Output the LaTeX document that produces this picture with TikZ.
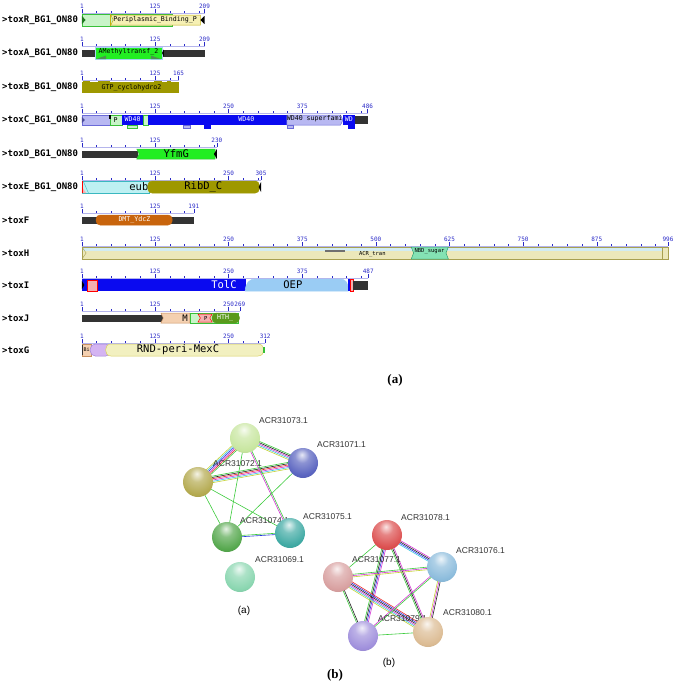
\documentclass[tikz,border=0pt]{standalone}
\usepackage{fontspec}
\setmainfont{Liberation Serif}
\newfontfamily\trackfont{DejaVu Sans Mono}
\newfontfamily\labfont{Liberation Sans}
\usetikzlibrary{calc,backgrounds}

\definecolor{rulerblue}{HTML}{2A2AC8}
\definecolor{backbone}{HTML}{333333}
\definecolor{ltgreen}{HTML}{C8F4C8}
\definecolor{midgreen}{HTML}{38C038}
\definecolor{brgreen}{HTML}{22EE22}
\definecolor{dkgreen}{HTML}{1E7A1E}
\definecolor{paleyel}{HTML}{F6F0B4}
\definecolor{olivebd}{HTML}{C0AE10}
\definecolor{olive}{HTML}{9E9800}
\definecolor{ltblue}{HTML}{A8D4F4}
\definecolor{wdblue}{HTML}{0A0AF0}
\definecolor{lavender}{HTML}{B8B8F2}
\definecolor{lavbd}{HTML}{6A6AD8}
\definecolor{ltcyan}{HTML}{BEF0F2}
\definecolor{tealbd}{HTML}{3AB8C0}
\definecolor{dmtorange}{HTML}{C8640C}
\definecolor{khaki}{HTML}{ECE8BA}
\definecolor{khakibd}{HTML}{A8A050}
\definecolor{rulerband}{HTML}{D2ECF2}
\definecolor{nbdgreen}{HTML}{84E2B4}
\definecolor{nbdbd}{HTML}{2EA070}
\definecolor{pinkfill}{HTML}{F4B0B0}
\definecolor{oepblue}{HTML}{9ACCF4}
\definecolor{peach}{HTML}{F4D0B0}
\definecolor{peachbd}{HTML}{C89060}
\definecolor{hthgreen}{HTML}{5A9A1C}
\definecolor{lilac}{HTML}{D4B4F2}
\definecolor{lilacbd}{HTML}{A080D8}
\definecolor{paleyel2}{HTML}{F2F0C0}
\definecolor{yelbd}{HTML}{D8D060}
% STRING evidence colours
\definecolor{evgreen}{HTML}{3CCB3C}
\definecolor{evred}{HTML}{E82A2A}
\definecolor{evblue}{HTML}{2A36E0}
\definecolor{evblack}{HTML}{222222}
\definecolor{evmagenta}{HTML}{D234D2}
\definecolor{evcyan}{HTML}{3CC4E4}
\definecolor{evyellow}{HTML}{C4D236}
% protein balls
\definecolor{p69}{HTML}{8AD6B0}
\definecolor{p71}{HTML}{5A64C0}
\definecolor{p72}{HTML}{B4AA50}
\definecolor{p73}{HTML}{C8E6A0}
\definecolor{p74}{HTML}{56A84E}
\definecolor{p75}{HTML}{40AAA4}
\definecolor{p76}{HTML}{8CBCDC}
\definecolor{p77}{HTML}{D8A0A0}
\definecolor{p78}{HTML}{DC5050}
\definecolor{p79}{HTML}{A090DC}
\definecolor{p80}{HTML}{DCBC94}

% lighter sphere than the stock ball shading
\makeatletter
\pgfdeclareradialshading[tikz@ball]{stringball}{\pgfqpoint{-2bp}{14bp}}{%
  color(0bp)=(tikz@ball!15!white); color(12bp)=(tikz@ball!70!white);
  color(30bp)=(tikz@ball); color(52bp)=(tikz@ball!78!black);
  color(64bp)=(tikz@ball!60!black); color(100bp)=(tikz@ball!60!black)}
\makeatother

\tikzset{
  rowlab/.style={anchor=west,inner sep=0pt,font=\trackfont\bfseries\fontsize{9}{10}\selectfont},
  ruler/.style={rulerblue,line width=0.4pt},
  rulenum/.style={inner sep=0pt,text=rulerblue,font=\trackfont\fontsize{6}{6}\selectfont},
  dom/.style 2 args={fill=#1,draw=#2,line width=0.5pt},
  smalltxt/.style={inner sep=0pt,font=\trackfont\fontsize{6.6}{7}\selectfont},
  bigtxt/.style={inner sep=0pt,font=\trackfont\fontsize{10.5}{11}\selectfont},
  protein/.style={circle,minimum size=30pt,inner sep=0pt},
  acc/.style={anchor=west,inner sep=0pt,text=black!80,font=\labfont\fontsize{8.5}{9}\selectfont},
  link/.style={line width=0.6pt},
  panel/.style={inner sep=0pt,font=\bfseries\fontsize{13}{14}\selectfont},
  subpanel/.style={inner sep=0pt,font=\labfont\fontsize{10}{11}\selectfont}
}

\begin{document}
\begin{tikzpicture}[x=1pt,y=-1pt]
 \useasboundingbox (0,0) rectangle (676,686);
 % row names and rulers
 \foreach \y/\len/\name [count=\r] in {20/209/toxR\_BG1\_ON80, 53/209/toxA\_BG1\_ON80,
   87/165/toxB\_BG1\_ON80, 120/486/toxC\_BG1\_ON80, 154/230/toxD\_BG1\_ON80,
   187/305/toxE\_BG1\_ON80, 220/191/toxF, 253/996/toxH, 285/487/toxI, 318/269/toxJ, 350/312/toxG} {
   \node[rowlab] (row\r) at (2,\y) {>\name};
   \begin{scope}[shift={(81.4,\y)},x=0.589pt]
     \draw[ruler,rulerblue!35] (1,-7) -- (\len,-7);
     \foreach \t in {25,50,...,975} {\ifnum\t<\len \draw[ruler] (\t,-7) -- (\t,-9.5);\fi}
     \foreach \t in {1,125,250,375,500,625,750,875,\len} {\ifnum\t>\len\else
       \draw[ruler] (\t,-7) -- (\t,-11);
       \node[rulenum] (tick\r-\t) at (\t,-14) {\t};\fi}
   \end{scope}}

 % toxR
 \begin{scope}[shift={(81.4,20)},x=0.589pt]
  \draw[dom={ltgreen}{midgreen}] (1,-6) rectangle (154,6);
  \draw[dom={paleyel}{olivebd}] (50,-5) -- (202,-5) -- (202,5) -- (50,5) -- (54,0) -- cycle;
  \draw[olivebd,line width=1.2pt] (50,-6) -- (50,6);
  \fill[dkgreen] (1,-4) -- (7,0) -- (1,4) -- cycle;
  \fill[black] (209,-4) -- (202,0) -- (209,4) -- cycle;
  \node[smalltxt] (pbpR) at (125,0) {Periplasmic\_Binding\_P};
 \end{scope}
 % toxA
 \begin{scope}[shift={(81.4,53)},x=0.589pt]
  \fill[backbone] (1,-3.5) rectangle (209,3.5);
  \draw[dom={brgreen}{ltblue}] (23,-6) -- (137,-6) -- (137,6) -- (23,6) -- cycle;
  \fill[dkgreen!80] (25,6) -- (42,2.5) -- (42,6) -- cycle;
  \fill[dkgreen!80] (135,6) -- (118,2.5) -- (118,6) -- cycle;
  \fill[black] (140,-3.5) -- (137,0) -- (140,3.5) -- cycle;
  \node[smalltxt] (mtA) at (80,-1) {AMethyltransf\_2};
 \end{scope}
 % toxB
 \begin{scope}[shift={(81.4,87)},x=0.589pt]
  \fill[olive] (1,-5) rectangle (165,6);
  \foreach \a/\b in {2/14,28/48,124/136,146/152} \fill[olive] (\a,-6.5) rectangle (\b,-5);
  \node[smalltxt] (gtpB) at (85,1) {GTP\_cyclohydro2};
 \end{scope}
 % toxC
 \begin{scope}[shift={(81.4,120)},x=0.589pt]
  \fill[backbone] (464,-4) rectangle (486,4);
  \draw[dom={lavender}{lavbd}] (1,-5) rectangle (49,5);
  \fill[lavbd!70!black] (1,-3) -- (6,0) -- (1,3) -- cycle;
  \draw[dom={ltgreen}{midgreen}] (49,-5) rectangle (69,5);
  \draw[dom={ltgreen}{midgreen}] (78,5) rectangle (95,8);
  \fill[wdblue] (69,-5) rectangle (105,5);
  \draw[dom={ltgreen}{midgreen}] (105,-5) rectangle (113,5);
  \fill[wdblue] (113,-5) rectangle (349,5);
  \draw[dom={lavender}{lavbd}] (173,5) rectangle (185,8);
  \fill[wdblue] (208,5) rectangle (220,8.5);
  \draw[dom={lavender}{lavbd}] (349,-5) -- (440,-5) -- (444,0) -- (440,5) -- (349,5) -- cycle;
  \draw[dom={lavender}{lavbd}] (349,5) rectangle (359,8);
  \fill[wdblue] (444,-5) rectangle (464,5);
  \fill[wdblue] (453,5) rectangle (464,8.5);
  \fill[black] (47,-5) rectangle (50,-1);
  \node[smalltxt] (pC) at (58,0) {P};
  \node[smalltxt,text=white] (wd1C) at (87,-1) {WD40};
  \node[smalltxt,text=white] (wd2C) at (280,-1) {WD40};
  \node[smalltxt] (wd3C) at (396,-1) {WD40 superfami};
  \node[smalltxt,text=white] (wd4C) at (454,-1) {WD};
 \end{scope}
 % toxD
 \begin{scope}[shift={(81.4,154)},x=0.589pt]
  \fill[backbone] (1,-3.5) rectangle (96,3.5);
  \draw[dom={brgreen}{midgreen}] (94,-5) -- (227,-5) -- (227,5) -- (94,5) -- (98,0) -- cycle;
  \fill[black] (230,-5) -- (225,0) -- (230,5) -- cycle;
  \node[bigtxt] (yfmD) at (161,0) {YfmG};
 \end{scope}
 % toxE
 \begin{scope}[shift={(81.4,187)},x=0.589pt]
  \draw[dom={ltcyan}{tealbd}] (1,-6) -- (116,-6) -- (116,6) -- (1,6) -- cycle;
  \draw[tealbd] (3,-6) -- (12,6);
  \fill[pinkfill] (1,0) -- (1,6) -- (8,6) -- cycle;
  \draw[red] (1,-6) -- (1,6);
  \node[bigtxt,anchor=east] (eubE) at (114,0) {eub};
  \draw[dom={olive}{olive},rounded corners=4pt] (113,-6) rectangle (302,6);
  \fill[black] (305,-5) -- (301,0) -- (305,5) -- cycle;
  \node[bigtxt] (ribE) at (207,0) {RibD\_C};
 \end{scope}
 % toxF
 \begin{scope}[shift={(81.4,220)},x=0.589pt]
  \fill[backbone] (1,-3.5) rectangle (191,3.5);
  \draw[dom={dmtorange}{dmtorange},rounded corners=4pt] (25,-5) rectangle (154,5);
  \node[smalltxt,text=white] (dmtF) at (90,0) {DMT\_YdcZ};
 \end{scope}
 % toxH
 \begin{scope}[shift={(81.4,253)},x=0.589pt]
  \draw[dom={khaki}{khakibd}] (1,-6) rectangle (996,6);
  \fill[rulerband] (2,-5.5) rectangle (995,-2);
  \draw[khakibd] (1,-6) -- (8,0) -- (1,6);
  \fill[backbone!70] (413,-3) rectangle (447,-1.5);
  \draw[dom={nbdgreen}{nbdbd}] (560,-6) -- (623,-6) -- (619,0) -- (623,6) -- (560,6) -- (564,0) -- cycle;
  \node[smalltxt,font=\trackfont\fontsize{5.5}{6}\selectfont] (nbdH) at (591,-2) {NBD\_sugar};
  \node[smalltxt,font=\trackfont\fontsize{5.5}{6}\selectfont] (acrH) at (494,1.5) {ACR\_tran};
  \draw[dom={khaki}{khakibd}] (986,-6) rectangle (996,6);
 \end{scope}
 % toxI
 \begin{scope}[shift={(81.4,285)},x=0.589pt]
  \fill[wdblue] (1,-6) rectangle (280,6);
  \fill[black] (1,-4) -- (5,0) -- (1,4) -- cycle;
  \draw[dom={pinkfill}{red}] (10,-5) rectangle (27,6);
  \draw[dom={oepblue}{oepblue}] (278,6) .. controls (279,-2) and (285,-6) .. (295,-6)
    -- (438,-6) .. controls (450,-6) and (453,-2) .. (453,6) -- cycle;
  \fill[wdblue] (453,-6) rectangle (456,6);
  \draw[dom={pinkfill}{red}] (456,-6) rectangle (461,6);
  \fill[backbone] (461,-4.5) rectangle (487,4.5);
  \node[bigtxt,text=white] (tolI) at (242,0) {TolC};
  \node[bigtxt] (oepI) at (359,0) {OEP};
 \end{scope}
 % toxJ
 \begin{scope}[shift={(81.4,318)},x=0.589pt]
  \fill[backbone] (1,-3.5) rectangle (140,3.5);
  \draw[dom={peach}{peachbd}] (135,-5) -- (184,-5) -- (184,5) -- (135,5) -- (139,0) -- cycle;
  \node[bigtxt,font=\trackfont\fontsize{9}{10}\selectfont] (mJ) at (176,0) {M};
  \draw[dom={ltgreen}{midgreen}] (184,-5) rectangle (266,5);
  \draw[dom={pinkfill}{red}] (198,-4) -- (222,-4) -- (218,0) -- (222,4) -- (198,4) -- (202,0) -- cycle;
  \node[smalltxt,font=\trackfont\fontsize{5.5}{6}\selectfont] (pJ) at (211,0) {P};
  \draw[dom={hthgreen}{hthgreen},rounded corners=4pt] (222,-5) rectangle (268,5);
  \node[smalltxt,text=white] (hthJ) at (244,0) {HTH\_};
 \end{scope}
 % toxG
 \begin{scope}[shift={(81.4,350)},x=0.589pt]
  \draw[dom={peach}{peachbd}] (1,-6) rectangle (16,6);
  \fill[backbone] (1,-5) rectangle (3,5);
  \node[smalltxt,font=\trackfont\fontsize{5}{6}\selectfont] (biG) at (9,0) {Bi};
  \draw[dom={lilac}{lilacbd},rounded corners=5pt] (15,-6) rectangle (50,6);
  \draw[dom={paleyel2}{yelbd}] (50,-6) -- (300,-6) .. controls (307,-6) and (309,-3) .. (310,0)
    .. controls (309,3) and (307,6) .. (300,6) -- (50,6) .. controls (38,6) and (38,-6) .. (50,-6) -- cycle;
  \fill[midgreen] (309,-3) rectangle (312,3);
  \node[bigtxt] (rndG) at (164,0) {RND-peri-MexC};
 \end{scope}
 \node[panel] (capA) at (395,380) {(a)};

 % interaction networks
 \node[acc] (l73) at (259,421) {ACR31073.1};
 \node[acc] (l71) at (317,445) {ACR31071.1};
 \node[acc] (l72) at (213,464) {ACR31072.1};
 \node[acc] (l74) at (240,521) {ACR31074.1};
 \node[acc] (l75) at (303,517) {ACR31075.1};
 \node[acc] (l69) at (255,560) {ACR31069.1};
 \node[acc] (l78) at (401,518) {ACR31078.1};
 \node[acc] (l76) at (456,551) {ACR31076.1};
 \node[acc] (l77) at (352,560) {ACR31077.1};
 \node[acc] (l79) at (378,619) {ACR31079.1};
 \node[acc] (l80) at (443,613) {ACR31080.1};
 \foreach \p/\x/\y in {73/245/438, 71/303/463, 72/198/482, 74/227/537, 75/290/533, 69/240/577,
   78/387/535, 76/442/567, 77/338/577, 79/363/636, 80/428/632}
   \node[protein,ball color=p\p,shading=stringball] (n\p) at (\x,\y) {};
 \begin{pgfonlayer}{background}
 \foreach \a/\b/\n/\cols in {n73/n72/6/{evyellow,evcyan,evblue,evmagenta,evred,evgreen},
   n73/n71/5/{evyellow,evcyan,evmagenta,evblack,evgreen},
   n72/n71/6/{evyellow,evcyan,evmagenta,evred,evblack,evgreen},
   n72/n74/1/{evgreen}, n72/n75/1/{evgreen}, n73/n74/1/{evgreen},
   n73/n75/2/{evmagenta,evgreen}, n71/n74/1/{evgreen}, n74/n75/2/{evblue,evgreen},
   n78/n76/4/{evcyan,evblue,evblack,evmagenta}, n78/n77/1/{evgreen},
   n78/n79/4/{evgreen,evblack,evblue,evmagenta}, n78/n80/3/{evgreen,evblack,evmagenta},
   n77/n76/3/{evyellow,evmagenta,evgreen}, n77/n79/2/{evgreen,evblack},
   n77/n80/6/{evyellow,evcyan,evmagenta,evblack,evblue,evred},
   n76/n79/2/{evmagenta,evgreen}, n76/n80/3/{evyellow,evmagenta,evblack}, n79/n80/1/{evgreen}} {
   \foreach \c [count=\k] in \cols {
     \pgfmathsetmacro\o{(\k-(\n+1)/2)*1.3}
     \draw[link,\c] ($(\a)!\o pt!90:(\b)$) -- ($(\b)!\o pt!-90:(\a)$);}}
 \end{pgfonlayer}
 \node[subpanel] (subA) at (244,611) {(a)};
 \node[subpanel] (subB) at (389,663) {(b)};
 \node[panel] (capB) at (335,675) {(b)};
\end{tikzpicture}
\end{document}
